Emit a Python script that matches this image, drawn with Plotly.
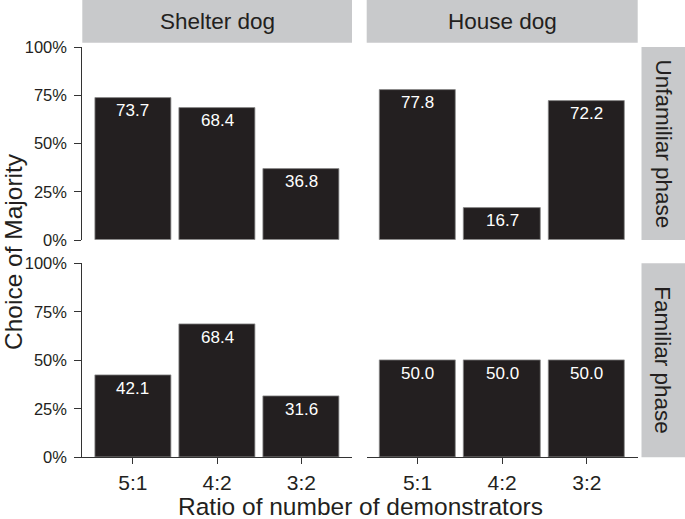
import plotly.graph_objects as go

ratios = ["5:1", "4:2", "3:2"]
dog_types = ["Shelter dog", "House dog"]
phases = ["Unfamiliar phase", "Familiar phase"]
shelter_unfamiliar = [73.7, 68.4, 36.8]
house_unfamiliar = [77.8, 16.7, 72.2]
shelter_familiar = [42.1, 68.4, 31.6]
house_familiar = [50.0, 50.0, 50.0]
y_ticks = [0, 25, 50, 75, 100]
y_tick_labels = ["0%", "25%", "50%", "75%", "100%"]

W, H = 685, 519
FONT = "Liberation Sans, Arial, sans-serif"
TXT = "#231f20"
BAR = "#231f20"
STRIP = "#c8c9cb"

def fx(px):
    return px / W

def fy(py):
    return 1 - py / H

col_dom = [(82.3, 352.0), (366.7, 637.7)]
row_dom = [(47.0, 240.0), (263.3, 457.3)]

panels = [
    (shelter_unfamiliar, 0, 0),
    (house_unfamiliar, 0, 1),
    (shelter_familiar, 1, 0),
    (house_familiar, 1, 1),
]

fig = go.Figure()
annotations = []
layout = {}
for i, (vals, r, c) in enumerate(panels):
    n = i + 1
    sx = "" if n == 1 else str(n)
    fig.add_trace(go.Bar(
        x=ratios, y=vals, width=0.9,
        marker=dict(color=BAR, line=dict(color="#8a8a8a", width=0.8)),
        xaxis="x" + sx, yaxis="y" + sx, showlegend=False, hoverinfo="skip",
    ))
    for xc, v in zip(ratios, vals):
        annotations.append(dict(
            x=xc, y=v, xref="x" + sx, yref="y" + sx, text=f"{v:.1f}",
            showarrow=False, yanchor="top", yshift=-1.5,
            font=dict(family=FONT, size=17, color="white"),
        ))
    x0, x1 = col_dom[c]
    y0, y1 = row_dom[r]
    bottom = (r == 1)
    left = (c == 0)
    layout["xaxis" + sx] = dict(
        domain=[fx(x0), fx(x1)], anchor="y" + sx, automargin=False,
        type="category", categoryorder="array", categoryarray=ratios,
        range=[-0.6, 2.6],
        showline=bottom, linecolor="#333333", linewidth=1.1,
        ticks="outside" if bottom else "", ticklen=6, tickwidth=1.1, tickcolor="#333333",
        showticklabels=bottom, tickfont=dict(family=FONT, size=21, color=TXT),
        showgrid=False, zeroline=False, fixedrange=True,
    )
    layout["yaxis" + sx] = dict(
        domain=[fy(y1), fy(y0)], anchor="x" + sx, automargin=False,
        range=[0, 100], tickvals=y_ticks, ticktext=y_tick_labels,
        showline=left, linecolor="#333333", linewidth=1.1,
        ticks="outside" if left else "", ticklen=7, tickwidth=1.1, tickcolor="#333333",
        ticklabelstandoff=4,
        showticklabels=left, tickfont=dict(family=FONT, size=16.5, color=TXT),
        showgrid=False, zeroline=False, fixedrange=True,
    )

shapes = []
# column strips
for c, name in enumerate(dog_types):
    x0, x1 = col_dom[c]
    shapes.append(dict(type="rect", xref="paper", yref="paper",
                       x0=fx(x0), x1=fx(x1), y0=fy(42.7), y1=fy(0),
                       fillcolor=STRIP, line=dict(width=0), layer="below"))
    annotations.append(dict(x=fx((x0 + x1) / 2), y=fy(21.5), xref="paper", yref="paper",
                            text=name, showarrow=False, xanchor="center", yanchor="middle",
                            font=dict(family=FONT, size=22.5, color=TXT)))
# row strips
for r, name in enumerate(phases):
    y0, y1 = row_dom[r]
    shapes.append(dict(type="rect", xref="paper", yref="paper",
                       x0=fx(641.5), x1=fx(685), y0=fy(y1), y1=fy(y0),
                       fillcolor=STRIP, line=dict(width=0), layer="below"))
    annotations.append(dict(x=fx(663), y=fy((y0 + y1) / 2), xref="paper", yref="paper",
                            text=name, showarrow=False, textangle=90,
                            xanchor="center", yanchor="middle",
                            font=dict(family=FONT, size=22.5, color=TXT)))

# axis titles
annotations.append(dict(x=fx(360), y=fy(506), xref="paper", yref="paper",
                        text="Ratio of number of demonstrators", showarrow=False,
                        xanchor="center", yanchor="middle",
                        font=dict(family=FONT, size=24.5, color=TXT)))
annotations.append(dict(x=fx(13), y=fy(252), xref="paper", yref="paper",
                        text="Choice of Majority", showarrow=False, textangle=-90,
                        xanchor="center", yanchor="middle",
                        font=dict(family=FONT, size=24.5, color=TXT)))

fig.update_layout(
    template="none",
    width=W, height=H,
    margin=dict(l=0, r=0, t=0, b=0, pad=0, autoexpand=False),
    paper_bgcolor="white", plot_bgcolor="white",
    bargap=0, annotations=annotations, shapes=shapes,
    font=dict(family=FONT, color=TXT),
    **layout,
)
fig.write_html(
    "out.html",
    config={"displayModeBar": False},
    post_script="document.body.style.margin='0';document.body.style.padding='0';"
                "document.documentElement.style.overflow='hidden';",
)
